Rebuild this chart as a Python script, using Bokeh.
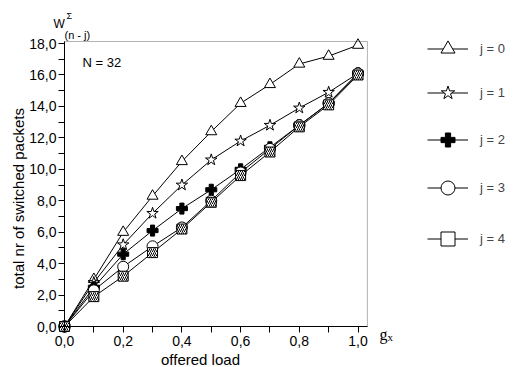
from math import pi
from bokeh.plotting import figure
from bokeh.models import (FixedTicker, CustomJSTickFormatter, Label, Legend, LegendItem,
                          ColumnDataSource, Range1d, LinearAxis, BoxAnnotation)
from bokeh.embed import file_html
from bokeh.resources import INLINE

# ---- data ----
offered_load = [0.0, 0.1, 0.2, 0.3, 0.4, 0.5, 0.6, 0.7, 0.8, 0.9, 1.0]
j0 = [0.0, 3.0, 6.0, 8.3, 10.5, 12.4, 14.2, 15.4, 16.7, 17.2, 17.9]
j1 = [0.0, 2.8, 5.2, 7.2, 9.0, 10.6, 11.8, 12.8, 13.9, 14.9, 16.1]
j2 = [0.0, 2.5, 4.6, 6.1, 7.5, 8.7, 10.0, 11.4, 12.8, 14.2, 16.1]
j3 = [0.0, 2.3, 3.8, 5.1, 6.3, 8.0, 9.8, 11.3, 12.8, 14.2, 16.1]
j4 = [0.0, 1.9, 3.2, 4.7, 6.2, 7.9, 9.6, 11.1, 12.7, 14.1, 16.0]
series_labels = ["j = 0", "j = 1", "j = 2", "j = 3", "j = 4"]
x_ticks = [0.0, 0.2, 0.4, 0.6, 0.8, 1.0]
x_minor = [0.1, 0.3, 0.5, 0.7, 0.9]
y_ticks = [0, 2, 4, 6, 8, 10, 12, 14, 16, 18]
y_minor = [1, 3, 5, 7, 9, 11, 13, 15, 17]

X_MAX = 1.032   # right edge of the drawn box
Y_MAX = 18.13   # top edge of the drawn box
FONT = "Liberation Sans"
W, H = 523, 367

# the frame covers the whole canvas; the boxed plot area is drawn with fixed axes + a box
p = figure(width=W, height=H, output_backend="svg", toolbar_location=None,
           x_axis_location=None, y_axis_location=None,
           x_range=Range1d(-64 / 293.5, (W - 64) / 293.5),
           y_range=Range1d(-(H - 326) / 15.72, 326 / 15.72),
           min_border_left=0, min_border_right=0, min_border_top=0, min_border_bottom=0)
p.background_fill_color = "white"
p.border_fill_color = "white"
p.outline_line_color = None
p.xgrid.visible = False
p.ygrid.visible = False
# range used only by the legend-sample renderers (maps their data off the canvas)
p.extra_x_ranges = {"legend_only": Range1d(-50, -49)}

fmt = CustomJSTickFormatter(code="return tick.toFixed(1).replace('.', ',');")
xax = LinearAxis(fixed_location=0, bounds=(0, X_MAX),
                 ticker=FixedTicker(ticks=x_ticks, minor_ticks=x_minor), formatter=fmt)
yax = LinearAxis(fixed_location=0, bounds=(0, Y_MAX),
                 ticker=FixedTicker(ticks=y_ticks, minor_ticks=y_minor), formatter=fmt)
for ax in (xax, yax):
    ax.major_tick_in = 0
    ax.minor_tick_in = 0
    ax.major_tick_out = 6
    ax.minor_tick_out = 6
    ax.major_tick_line_color = "black"
    ax.minor_tick_line_color = "black"
    ax.axis_line_color = "black"
    ax.major_label_text_font = FONT
    ax.major_label_text_font_size = "14px"
    ax.major_label_text_color = "black"
xax.major_label_standoff = 3
yax.major_label_standoff = 2
p.add_layout(xax, "below")
p.add_layout(yax, "left")

p.add_layout(BoxAnnotation(left=0, right=X_MAX, bottom=0, top=Y_MAX,
                           fill_alpha=0, line_color="black", line_width=1))

styles = [
    dict(marker="triangle", size=11, fill_color="white"),
    dict(marker="star", size=12, fill_color="white"),
    dict(marker="plus", size=11, fill_color="black"),
    dict(marker="circle", size=11, fill_color="white"),
    dict(marker="square", size=10, fill_color="white", hatch_pattern="/",
         hatch_color="black", hatch_scale=4, hatch_weight=1),
]
legend_styles = [
    dict(marker="triangle", fill_color="white"),
    dict(marker="star", fill_color="white"),
    dict(marker="plus", fill_color="black"),
    dict(marker="circle", fill_color="white"),
    dict(marker="square", fill_color="white"),
]
all_series = [j0, j1, j2, j3, j4]
legend_centers = [48, 92, 139, 187, 238]  # canvas y of legend rows
GH = 35  # legend glyph box height (marker size in legend = 0.4 * GH)

for vals, st, lst, lab, yc in zip(all_series, styles, legend_styles, series_labels, legend_centers):
    src = ColumnDataSource(dict(x=offered_load, y=vals))
    p.line("x", "y", source=src, line_color="black", line_width=1)
    p.scatter("x", "y", source=src, line_color="black", line_width=1, **st)
    lr = p.line("x", "y", source=src, line_color="black", line_width=1,
                x_range_name="legend_only")
    sr = p.scatter("x", "y", source=src, line_color="black", line_width=1,
                   x_range_name="legend_only", **lst)
    leg = Legend(items=[LegendItem(label=lab, renderers=[lr, sr])],
                 location=(427, H - (yc + GH / 2)), padding=0, margin=0,
                 border_line_color=None, background_fill_alpha=0,
                 glyph_width=41, glyph_height=GH, label_standoff=12,
                 label_text_font=FONT, label_text_font_size="13px", label_height=20)
    p.add_layout(leg)

def lab(text, cx, cy, size, font=FONT, align="left", baseline="middle", angle=0):
    # cx, cy: canvas pixels from the top-left corner
    p.add_layout(Label(x=cx, y=H - cy, x_units="screen", y_units="screen", text=text,
                       text_font=font, text_font_size=size, text_align=align,
                       text_baseline=baseline, angle=angle, text_color="black"))

lab("total nr of switched packets", 18, 198, "15px", align="center", angle=pi / 2)
lab("offered load", 200, 359, "15px", align="center")
lab("N = 32", 82, 62, "13px")
lab("W", 53, 23, "12px")
lab("\u03a3", 66, 15, "9px")
lab("(n - j)", 64, 34, "11px")
lab("g", 379, 334, "16px", font="Liberation Serif", baseline="alphabetic")
lab("x", 387, 336, "11px", font="Liberation Serif", baseline="alphabetic")

open("out.html", "w").write(file_html(p, INLINE))
